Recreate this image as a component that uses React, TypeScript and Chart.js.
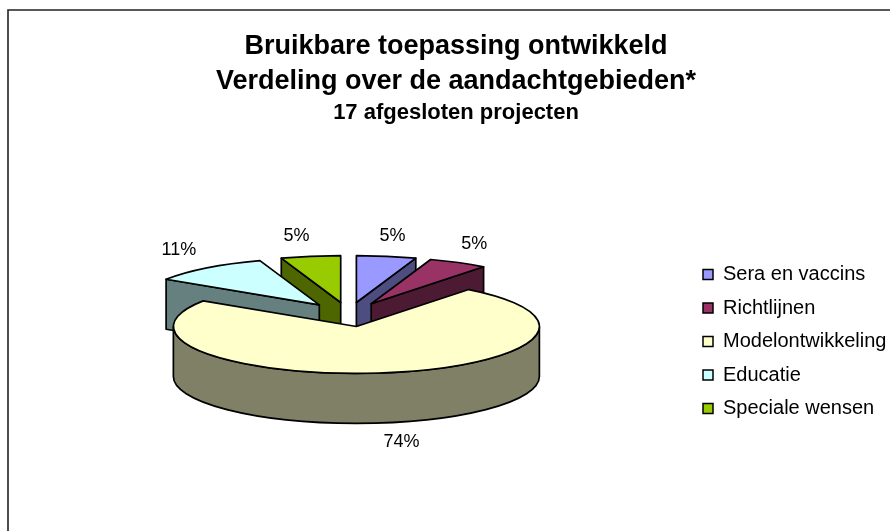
import React, { useEffect, useRef } from "react";
import { Chart, registerables } from "chart.js";

Chart.register(...registerables);

const categories = ["Sera en vaccins", "Richtlijnen", "Modelontwikkeling", "Educatie", "Speciale wensen"];
const sliceCounts = [1, 1, 14, 2, 1];
const topColors = ["#9999FF", "#993366", "#FFFFCC", "#CCFFFF", "#99CC00"];
const wallColors = ["#4D4D80", "#4D1A33", "#808066", "#668080", "#4D6600"];
const titleLines = ["Bruikbare toepassing ontwikkeld", "Verdeling over de aandachtgebieden*"];
const subtitleLine = "17 afgesloten projecten";

const SQUASH = 0.256;
const DEPTH = 50;
const EXPLODE = 47.6;
const FONT = "'Liberation Sans', Arial, sans-serif";
const LABEL_NUDGE: [number, number][] = [
  [6, -20],
  [16, -19],
  [15, 19],
  [-28, -18],
  [-14, -20],
];

const pie3d = {
  id: "pie3d",
  afterLayout(chart: any) {
    const legend = chart.legend;
    const dx = 689.5 - legend.left;
    legend.left += dx;
    legend.right += dx;
    legend.top += 92;
    legend.bottom += 92;
    for (const box of chart.boxes) {
      if (box !== legend && box.options && box.options.text !== undefined) {
        box.left += 4;
        box.right += 4;
      }
    }
  },
  beforeDraw(chart: any) {
    const ctx = chart.ctx;
    ctx.save();
    ctx.strokeStyle = "#222";
    ctx.lineWidth = 1.6;
    ctx.beginPath();
    ctx.moveTo(8, chart.height);
    ctx.lineTo(8, 10);
    ctx.lineTo(chart.width, 10);
    ctx.stroke();
    ctx.restore();
  },
  beforeDatasetsDraw(chart: any) {
    const ctx = chart.ctx;
    const arcs = chart.getDatasetMeta(0).data as any[];
    const total = sliceCounts.reduce((a, b) => a + b, 0);
    const geo = arcs.map((el, i) => {
      const mid = (el.startAngle + el.endAngle) / 2;
      return { el, i, mid, ox: EXPLODE * Math.cos(mid), oy: EXPLODE * Math.sin(mid) };
    });
    const order = [...geo].sort((a, b) => a.oy - b.oy);
    ctx.lineJoin = "round";
    for (const g of order) {
      const { el, i, ox, oy } = g;
      const cx = el.x + ox;
      const cy = el.y + SQUASH * oy;
      const r = el.outerRadius;
      const ry = r * SQUASH;
      const pt = (a: number) => [cx + r * Math.cos(a), cy + ry * Math.sin(a)];
      ctx.save();
      ctx.strokeStyle = "#000";
      ctx.lineWidth = 1.7;
      ctx.fillStyle = wallColors[i];
      const walls: number[] = [];
      if (Math.cos(el.startAngle) < -1e-6) walls.push(el.startAngle);
      if (Math.cos(el.endAngle) > 1e-6) walls.push(el.endAngle);
      for (const a of walls) {
        const p = pt(a);
        ctx.beginPath();
        ctx.moveTo(cx, cy);
        ctx.lineTo(p[0], p[1]);
        ctx.lineTo(p[0], p[1] + DEPTH);
        ctx.lineTo(cx, cy + DEPTH);
        ctx.closePath();
        ctx.fill();
        ctx.stroke();
      }
      const a0 = Math.max(el.startAngle, 0);
      const a1 = Math.min(el.endAngle, Math.PI);
      if (a1 > a0) {
        ctx.beginPath();
        ctx.ellipse(cx, cy, r, ry, 0, a0, a1);
        ctx.ellipse(cx, cy + DEPTH, r, ry, 0, a1, a0, true);
        ctx.closePath();
        ctx.fill();
        ctx.stroke();
      }
      ctx.restore();

      // top face: the library's own arc element, squashed
      ctx.save();
      ctx.translate(ox, el.y + SQUASH * oy);
      ctx.scale(1, SQUASH);
      ctx.translate(0, -el.y);
      el.draw(ctx, chart.chartArea);
      ctx.restore();

      ctx.save();
      ctx.strokeStyle = "#000";
      ctx.lineWidth = 1.7;
      ctx.beginPath();
      ctx.moveTo(cx, cy);
      ctx.ellipse(cx, cy, r, ry, 0, el.startAngle, el.endAngle);
      ctx.closePath();
      ctx.stroke();
      ctx.restore();
    }
    ctx.save();
    ctx.fillStyle = "#000";
    ctx.font = `18px ${FONT}`;
    ctx.textAlign = "center";
    ctx.textBaseline = "middle";
    for (const g of geo) {
      const { el, i, mid, ox, oy } = g;
      const r = el.outerRadius;
      const px = el.x + ox + r * Math.cos(mid);
      let py = el.y + SQUASH * (oy + r * Math.sin(mid));
      if (Math.sin(mid) > 0) py += DEPTH;
      const pct = Math.round((sliceCounts[i] / total) * 100);
      ctx.fillText(`${pct}%`, px + LABEL_NUDGE[i][0], py + LABEL_NUDGE[i][1]);
    }
    ctx.restore();
    return false;
  },
};

export default function App() {
  const ref = useRef<HTMLCanvasElement>(null);
  useEffect(() => {
    document.body.style.margin = "0";
    const chart = new Chart(ref.current as HTMLCanvasElement, {
      type: "pie",
      data: {
        labels: categories,
        datasets: [{ data: sliceCounts, backgroundColor: topColors, borderWidth: 0 }],
      },
      plugins: [pie3d],
      options: {
        responsive: false,
        animation: false,
        events: [],
        radius: 183,
        layout: { padding: { left: 22, right: 8, top: 0, bottom: 32 } },
        plugins: {
          tooltip: { enabled: false },
          title: {
            display: true,
            text: titleLines,
            color: "#000",
            font: { family: FONT, size: 27, weight: "bold", lineHeight: 35 / 27 },
            padding: { top: 29, bottom: 4 },
          },
          subtitle: {
            display: true,
            text: subtitleLine,
            color: "#000",
            font: { family: FONT, size: 22, weight: "bold", lineHeight: 19 / 22 },
            padding: { top: 0, bottom: 8 },
          },
          legend: {
            display: true,
            position: "right",
            labels: {
              color: "#000",
              font: { family: FONT, size: 20 },
              boxWidth: 10,
              boxHeight: 10,
              padding: 13.5,
              generateLabels: (c: any) =>
                Chart.overrides.pie.plugins.legend.labels
                  .generateLabels(c)
                  .map((l: any) => ({ ...l, strokeStyle: "#000", lineWidth: 1.5 })),
            },
          },
        },
      } as any,
    });
    return () => chart.destroy();
  }, []);
  return (
    <div style={{ position: "relative", width: 890, height: 531, overflow: "hidden" }}>
      <canvas ref={ref} width={890} height={531} style={{ display: "block" }} />
    </div>
  );
}
